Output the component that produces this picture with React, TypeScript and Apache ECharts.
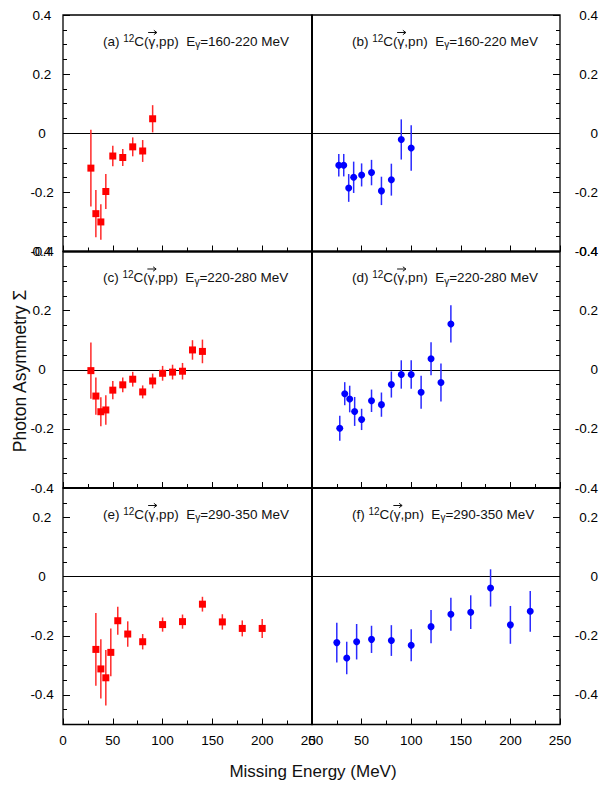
import React, { useEffect, useRef } from 'react';
import * as echarts from 'echarts';

const FONT = '"Liberation Sans", Arial, Helvetica, sans-serif';

// Missing energy (MeV), asymmetry, error — panel (a) 12C(g,pp) 160-220 MeV
const aX = [28, 33, 38, 43, 50, 60, 70, 80, 90];
const aY = [-0.118, -0.272, -0.3, -0.197, -0.077, -0.082, -0.046, -0.06, 0.049];
const aErr = [0.13, 0.08, 0.06, 0.059, 0.035, 0.029, 0.032, 0.037, 0.046];

// panel (b) 12C(g,pn) 160-220 MeV
const bX = [27, 32, 37, 42, 50, 60, 70, 80, 90, 100];
const bY = [-0.108, -0.108, -0.185, -0.149, -0.141, -0.133, -0.195, -0.157, -0.021, -0.05];
const bErr = [0.038, 0.038, 0.047, 0.053, 0.039, 0.043, 0.048, 0.054, 0.068, 0.077];

// panel (c) 12C(g,pp) 220-280 MeV
const cX = [28, 33, 38, 43, 50, 60, 70, 80, 90, 100, 110, 120, 130, 140];
const cY = [-0.003, -0.089, -0.142, -0.136, -0.069, -0.051, -0.032, -0.075, -0.038, -0.012, -0.008, -0.005, 0.067, 0.062];
const cErr = [0.095, 0.063, 0.049, 0.05, 0.031, 0.025, 0.025, 0.022, 0.025, 0.025, 0.025, 0.028, 0.033, 0.04];

// panel (d) 12C(g,pn) 220-280 MeV
const dX = [28, 33, 38, 43, 50, 60, 70, 80, 90, 100, 110, 120, 130, 140];
const dY = [-0.198, -0.081, -0.099, -0.141, -0.168, -0.105, -0.118, -0.05, -0.016, -0.016, -0.076, 0.037, -0.043, 0.155];
const dErr = [0.042, 0.039, 0.045, 0.049, 0.036, 0.038, 0.041, 0.044, 0.048, 0.048, 0.056, 0.056, 0.064, 0.063];

// panel (e) 12C(g,pp) 290-350 MeV
const eX = [33, 38, 43, 48, 55, 65, 80, 100, 120, 140, 160, 180, 200];
const eY = [-0.246, -0.312, -0.342, -0.256, -0.149, -0.194, -0.22, -0.162, -0.152, -0.093, -0.153, -0.175, -0.175];
const eErr = [0.123, 0.1, 0.094, 0.081, 0.047, 0.043, 0.026, 0.024, 0.024, 0.025, 0.026, 0.027, 0.032];

// panel (f) 12C(g,pn) 290-350 MeV
const fX = [25, 35, 45, 60, 80, 100, 120, 140, 160, 180, 200, 220];
const fY = [-0.223, -0.275, -0.22, -0.212, -0.216, -0.232, -0.169, -0.127, -0.12, -0.038, -0.163, -0.117];
const fErr = [0.067, 0.055, 0.06, 0.046, 0.052, 0.054, 0.056, 0.056, 0.057, 0.063, 0.064, 0.069];

const panels = [
  { letter: 'a', reaction: 'pp', range: '160-220', xs: aX, ys: aY, errs: aErr },
  { letter: 'b', reaction: 'pn', range: '160-220', xs: bX, ys: bY, errs: bErr },
  { letter: 'c', reaction: 'pp', range: '220-280', xs: cX, ys: cY, errs: cErr },
  { letter: 'd', reaction: 'pn', range: '220-280', xs: dX, ys: dY, errs: dErr },
  { letter: 'e', reaction: 'pp', range: '290-350', xs: eX, ys: eY, errs: eErr },
  { letter: 'f', reaction: 'pn', range: '290-350', xs: fX, ys: fY, errs: fErr },
];

const xTitle = 'Missing Energy (MeV)';
const yTitle = 'Photon Asymmetry Σ';
const bottomTicks = [-0.4, -0.2, 0, 0.2];

const GRID_LEFT = [63, 312];
const GRID_W = [249, 248];
const GRID_TOP = [15, 251.5, 488];
const GRID_H = 236.5;

const RED = '#ff0000';
const BLUE = '#0000ff';

let measureCtx: CanvasRenderingContext2D | null = null;
function tw(s: string, size: number) {
  if (!measureCtx) measureCtx = document.createElement('canvas').getContext('2d');
  if (!measureCtx) return s.length * size * 0.55;
  measureCtx.font = `${size}px ${FONT}`;
  return measureCtx.measureText(s).width;
}

function titleGraphic(x0: number, yMid: number, letter: string, reaction: string, range: string) {
  const S = 13.5;
  const SS = 10;
  const children: any[] = [];
  let x = x0;
  const add = (text: string, size: number, dy: number) => {
    children.push({
      type: 'text',
      x,
      y: yMid + dy,
      style: { text, fontSize: size, fontFamily: FONT, fill: '#111', align: 'left', verticalAlign: 'middle' },
    });
    const w = tw(text, size);
    x += w;
    return w;
  };
  add(`(${letter}) `, S, 0);
  add('12', SS, -3);
  add('C(', S, 0);
  const gx = x;
  const gw = add('γ', S, 0);
  const ay = yMid - 8.5;
  children.push({
    type: 'line',
    shape: { x1: gx - 0.5, y1: ay, x2: gx + gw + 1.5, y2: ay },
    style: { stroke: '#111', lineWidth: 1 },
  });
  children.push({
    type: 'polyline',
    shape: { points: [[gx + gw - 1.5, ay - 2.2], [gx + gw + 1.5, ay], [gx + gw - 1.5, ay + 2.2]] },
    style: { stroke: '#111', lineWidth: 1, fill: 'none' },
  });
  add(`,${reaction})  E`, S, 0);
  add('γ', SS, 3.5);
  add(`=${range} MeV`, S, 0);
  return { type: 'group', children };
}

const fmt = (v: number) => {
  const r = Math.round(v * 100);
  if (r % 20 !== 0) return '';
  const t = r / 100;
  return t === 0 ? '0' : String(t);
};

const tickStyle = { color: '#000', width: 1 };

function buildOption() {
  const grid: any[] = [];
  const xAxis: any[] = [];
  const yAxis: any[] = [];
  const series: any[] = [];
  const graphic: any[] = [];

  panels.forEach((p, i) => {
    const col = i % 2;
    const row = Math.floor(i / 2);
    const isRight = col === 1;
    grid.push({
      left: GRID_LEFT[col],
      top: GRID_TOP[row],
      width: GRID_W[col],
      height: GRID_H,
      show: true,
      borderColor: '#000',
      borderWidth: 1.3,
      backgroundColor: 'transparent',
      containLabel: false,
      outerBoundsMode: 'none',
    });
    xAxis.push({
      type: 'value',
      gridIndex: i,
      min: 0,
      max: 250,
      interval: 50,
      position: 'bottom',
      axisLine: { show: false, onZero: false },
      axisTick: { show: true, inside: true, length: 6, lineStyle: tickStyle },
      minorTick: { show: true, splitNumber: 2, length: 4, lineStyle: tickStyle },
      splitLine: { show: false },
      minorSplitLine: { show: false },
      axisLabel: { show: row === 2, margin: 8.5, fontSize: 13.5, fontFamily: FONT, color: '#000' },
    });
    const labelCfg = {
      show: true,
      fontSize: 13.5,
      fontFamily: FONT,
      color: '#000',
      margin: isRight ? 38 : 21,
      align: isRight ? 'right' : 'center',
      formatter: fmt,
    };
    if (row < 2) {
      yAxis.push({
        type: 'value',
        gridIndex: i,
        position: isRight ? 'right' : 'left',
        min: -0.4,
        max: 0.4,
        interval: 0.2,
        axisLine: { show: false, onZero: false },
        axisTick: { show: true, inside: true, length: 7, lineStyle: tickStyle },
        minorTick: { show: true, splitNumber: 4, length: 4, lineStyle: tickStyle },
        splitLine: { show: false },
        minorSplitLine: { show: false },
        axisLabel: labelCfg,
      });
    } else {
      yAxis.push({
        type: 'value',
        gridIndex: i,
        position: isRight ? 'right' : 'left',
        min: -0.5,
        max: 0.3,
        interval: 0.05,
        axisLine: { show: false, onZero: false },
        axisTick: { show: true, inside: true, length: 4, lineStyle: tickStyle },
        splitLine: { show: false },
        axisLabel: labelCfg,
      });
    }

    const color = p.letter.charCodeAt(0) % 2 === 1 ? RED : BLUE;
    const barColor = color === RED ? '#ff2a2a' : '#2a2aff';
    const data = p.xs.map((x, k) => [x, p.ys[k], p.errs[k]]);
    series.push({
      type: 'custom',
      xAxisIndex: i,
      yAxisIndex: i,
      data,
      encode: { x: 0, y: 1 },
      z: 2,
      silent: true,
      renderItem: (params: any, api: any) => {
        const x = api.value(0);
        const y = api.value(1);
        const e = api.value(2);
        const t = api.coord([x, y + e]);
        const b = api.coord([x, y - e]);
        return {
          type: 'line',
          shape: { x1: t[0], y1: t[1], x2: b[0], y2: b[1] },
          style: { stroke: barColor, lineWidth: 1.5 },
        };
      },
      markLine: {
        silent: true,
        symbol: ['none', 'none'],
        label: { show: false },
        lineStyle: { color: '#000', width: 1, type: 'solid' },
        emphasis: { disabled: true },
        data: [{ yAxis: 0 }],
        z: 1,
      },
    });
    series.push({
      type: 'scatter',
      xAxisIndex: i,
      yAxisIndex: i,
      data: data.map((d) => [d[0], d[1]]),
      symbol: color === RED ? 'rect' : 'circle',
      symbolSize: 7,
      itemStyle: { color, opacity: 1 },
      z: 3,
      silent: true,
    });

    graphic.push(titleGraphic(GRID_LEFT[col] + 40, GRID_TOP[row] + 26, p.letter, p.reaction, p.range));
  });

  // long ticks for bottom row (range -0.5..0.3)
  [4, 5].forEach((i) => {
    const isRight = i % 2 === 1;
    yAxis.push({
      type: 'value',
      gridIndex: i,
      position: isRight ? 'right' : 'left',
      min: -0.5,
      max: 0.3,
      axisLine: { show: false, onZero: false },
      axisTick: { show: true, inside: true, length: 7, lineStyle: tickStyle, customValues: bottomTicks },
      splitLine: { show: false },
      axisLabel: { show: false },
    });
  });

  // thicker shared borders
  graphic.push({
    type: 'line',
    shape: { x1: 312, y1: 15, x2: 312, y2: 724.5 },
    style: { stroke: '#000', lineWidth: 2 },
    z: 10,
  });
  [251.5, 488].forEach((y) => {
    graphic.push({
      type: 'line',
      shape: { x1: 63, y1: y, x2: 560, y2: y },
      style: { stroke: '#000', lineWidth: 2 },
      z: 10,
    });
  });

  graphic.push({
    type: 'text',
    x: 313,
    y: 771,
    style: { text: xTitle, fontSize: 17, fontFamily: FONT, fill: '#111', align: 'center', verticalAlign: 'middle' },
  });
  graphic.push({
    type: 'text',
    x: 20,
    y: 371,
    rotation: Math.PI / 2,
    style: { text: yTitle, fontSize: 17.5, fontFamily: FONT, fill: '#111', align: 'center', verticalAlign: 'middle' },
  });

  return {
    animation: false,
    backgroundColor: '#fff',
    grid,
    xAxis,
    yAxis,
    series,
    graphic,
  };
}

export default function App() {
  const ref = useRef<HTMLDivElement>(null);
  useEffect(() => {
    if (!ref.current) return;
    const chart = echarts.init(ref.current, null, { renderer: 'svg' });
    chart.setOption(buildOption() as any);
    return () => chart.dispose();
  }, []);
  return <div ref={ref} style={{ position: 'absolute', left: 0, top: 0, width: 599, height: 789 }} />;
}
